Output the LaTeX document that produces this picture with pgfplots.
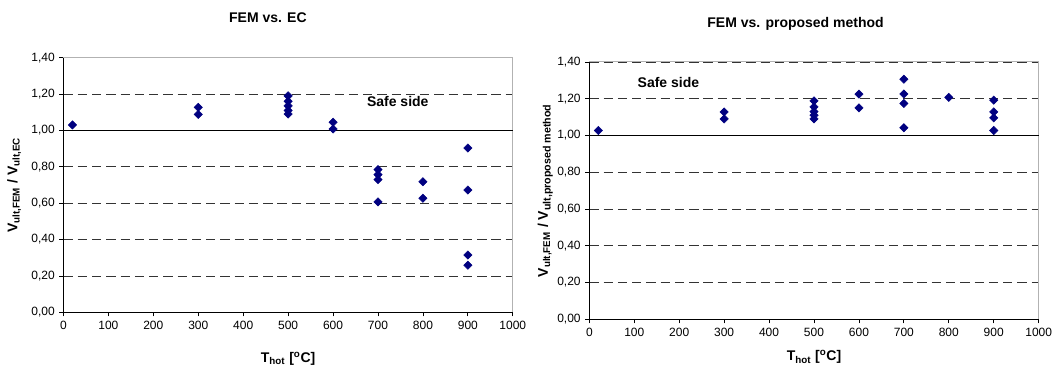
\documentclass[border=0pt]{standalone}
\usepackage{fontspec}
\setmainfont{Liberation Sans}
\usepackage{pgfplots}
\usepackage{pgfplotstable}
\pgfplotsset{compat=1.18}
\definecolor{navy}{HTML}{000080}

\pgfplotstableread{
x y
20 1.03
300 1.127
300 1.088
500 1.19
500 1.16
500 1.135
500 1.11
500 1.09
600 1.045
600 1.008
700 0.785
700 0.757
700 0.73
700 0.607
800 0.718
800 0.627
900 0.903
900 0.672
900 0.315
900 0.259
}\ecdata

\pgfplotstableread{
x y
20 1.027
300 1.128
300 1.09
500 1.188
500 1.155
500 1.13
500 1.11
500 1.09
600 1.225
600 1.15
700 1.306
700 1.226
700 1.174
700 1.042
800 1.207
900 1.192
900 1.128
900 1.096
900 1.027
}\pmdata

\pgfplotsset{myax/.style={
  scale only axis, width=337pt,
  xmin=0, xmax=1000, ymin=0, ymax=1.4,
  xtick={0,100,200,300,400,500,600,700,800,900,1000},
  ytick={0,0.2,0.4,0.6,0.8,1.0,1.2,1.4},
  yticklabel style={/pgf/number format/.cd,fixed,fixed zerofill,precision=2,use comma,assume math mode=true},
  xticklabel style={/pgf/number format/.cd,assume math mode=true,set thousands separator={}},
  ticklabel style={font=\fontsize{9}{10}\selectfont},
  axis x line*=bottom, axis y line*=left,
  axis line style={black,line width=0.8pt,-},
  tick align=outside, major tick length=3pt,
  tick style={black,line width=0.6pt},
  ymajorgrids, grid style={black!80, dash pattern=on 7pt off 3.7pt, line width=0.6pt},
  xlabel style={at={(rel axis cs:0.5,0)}, anchor=base, font=\bfseries\fontsize{10.5}{12}\selectfont},
  ylabel style={at={(rel axis cs:0,0.5)}, anchor=center, font=\bfseries\fontsize{10.5}{12}\selectfont},
  title style={anchor=base, font=\bfseries\fontsize{10.5}{12}\selectfont},
  clip=false,
}}

\begin{document}
\begin{tikzpicture}
\path[use as bounding box] (0,0) rectangle (795pt,275.25pt);
\begin{axis}[myax, height=191pt,
  at={(47.6pt,41pt)}, anchor=south west,
  title={FEM vs. EC}, title style={at={(rel axis cs:0.455,1)}, yshift=20.2pt},
  xlabel={T\textsubscript{hot} [\textsuperscript{o}C]}, xlabel style={yshift=-37.5pt},
  ylabel={V\textsubscript{ult,FEM} / V\textsubscript{ult,EC}}, ylabel style={yshift=37pt},
]
\draw[gray!60, line width=0.8pt] (rel axis cs:0,1) -- (rel axis cs:1,1) -- (rel axis cs:1,0);
\draw[black, line width=0.8pt] (axis cs:0,1) -- (axis cs:1000,1);
\addplot[only marks, mark=square*, mark size=2.2pt, mark options={rotate=45, fill=navy, draw=navy}] table[x=x,y=y] {\ecdata};
\node[font=\bfseries\fontsize{10.5}{12}\selectfont] at (axis cs:744,1.16) {Safe side};
\end{axis}
\begin{axis}[myax, height=193pt,
  at={(442pt,35.8pt)}, anchor=south west,
  title={FEM vs. proposed method}, title style={at={(rel axis cs:0.459,1)}, yshift=19.6pt},
  xlabel={T\textsubscript{hot} [\textsuperscript{o}C]}, xlabel style={yshift=-31.3pt},
  ylabel={V\textsubscript{ult,FEM} / V\textsubscript{\fontsize{8}{9}\selectfont ult,proposed method}}, ylabel style={yshift=33pt},
]
\draw[gray!60, line width=0.8pt] (rel axis cs:0,1) -- (rel axis cs:1,1) -- (rel axis cs:1,0);
\draw[black, line width=0.8pt] (axis cs:0,1) -- (axis cs:1000,1);
\addplot[only marks, mark=square*, mark size=2.2pt, mark options={rotate=45, fill=navy, draw=navy}] table[x=x,y=y] {\pmdata};
\node[font=\bfseries\fontsize{10.5}{12}\selectfont] at (axis cs:176,1.29) {Safe side};
\end{axis}
\end{tikzpicture}
\end{document}
